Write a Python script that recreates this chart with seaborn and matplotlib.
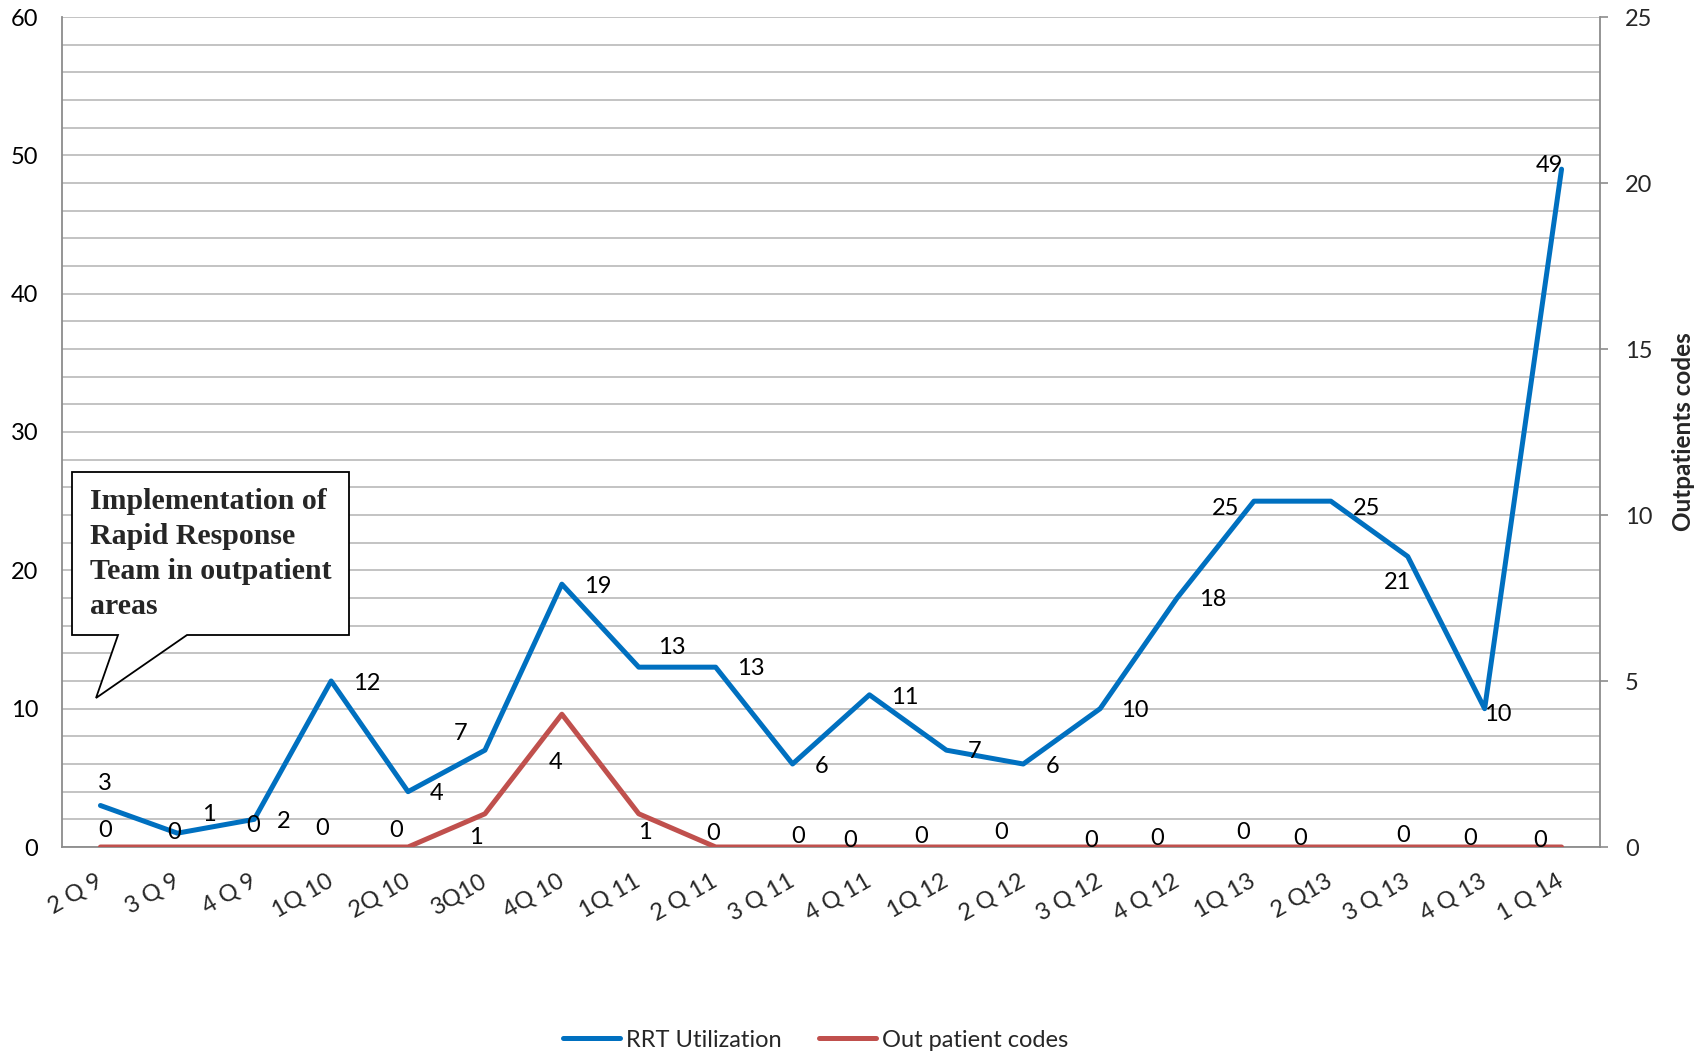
import numpy as np
import pandas as pd
import matplotlib
matplotlib.use("Agg")
import matplotlib.pyplot as plt
from matplotlib.patches import Polygon
import seaborn as sns

# ---------------- data ----------------
quarters = ["2 Q 9", "3 Q 9", "4 Q 9", "1Q 10", "2Q 10", "3Q10", "4Q 10", "1Q 11",
            "2 Q 11", "3 Q 11", "4 Q 11", "1Q 12", "2 Q 12", "3 Q 12", "4 Q 12",
            "1Q 13", "2 Q13", "3 Q 13", "4 Q 13", "1 Q 14"]
rrt_utilization = [3, 1, 2, 12, 4, 7, 19, 13, 13, 6, 11, 7, 6, 10, 18, 25, 25, 21, 10, 49]
outpatient_codes = [0, 0, 0, 0, 0, 1, 4, 1, 0, 0, 0, 0, 0, 0, 0, 0, 0, 0, 0, 0]
left_ticks = [0, 10, 20, 30, 40, 50, 60]
right_ticks = [0, 5, 10, 15, 20, 25]
callout_text = "Implementation of\nRapid Response\nTeam in outpatient\nareas"

# label offsets (layout only, in px of the reduced reference; y downward)
blue_off = [(4, -20), (29, -17), (27, 2), (33, 2), (26, 2), (-22, -15), (33, 2), (30, -18),
            (32, 1), (27, 2), (32, 2), (26, 1), (27, 2), (32, 2), (33, 1), (-26, 7),
            (33, 7), (-9, 24), (12, 5), (-11, -3)]
red_off = [(4, -15), (-3, -13), (-1, -20), (-8, -17), (-11, -15), (-8, 22), (-6, 44), (6, 17),
           (-2, -12), (5, -10), (-18, -6), (-23, -10), (-20, -13), (-8, -6), (-18, -8),
           (-10, -13), (-28, -8), (-4, -11), (-13, -8), (-20, -6)]
K = 1.088 * 0.72

sns.set_theme(style="white")
plt.rcParams["font.family"] = ["Lato", "DejaVu Sans"]

BLUE = "#0070C0"
RED = "#C0504D"
GRID = "#BEBEBE"
SPINE = "#8C8C8C"
FS = 17

df = pd.DataFrame({"pos": np.arange(len(quarters)), "quarter": quarters,
                   "RRT Utilization": rrt_utilization, "Out patient codes": outpatient_codes})

W, H = 1706, 1053
fig = plt.figure(figsize=(W / 100, H / 100), dpi=100)
ax = fig.add_axes([62 / W, 1 - 847 / H, (1600 - 62) / W, (847 - 17) / H])
ax2 = ax.twinx()

sns.lineplot(data=df, x="pos", y="RRT Utilization", ax=ax, color=BLUE, lw=3.6,
             sort=False, label="RRT Utilization", legend=False)
sns.lineplot(data=df, x="pos", y="Out patient codes", ax=ax2, color=RED, lw=3.6,
             sort=False, label="Out patient codes", legend=False)

ax.set_xlim(-0.5, len(quarters) - 0.5)
ax.set_ylim(0, 60)
ax2.set_ylim(0, 25)

ax.set_yticks(left_ticks)
ax.set_yticks(np.arange(0, 61, 2), minor=True)
ax.grid(True, which="both", axis="y", color=GRID, lw=1.3)
ax.grid(False, axis="x")
ax.set_axisbelow(True)
ax.tick_params(axis="y", which="both", length=0, pad=17, labelsize=FS, labelcolor="black")
ax.set_yticklabels([str(t) for t in left_ticks])

ax.set_xticks(df["pos"])
ax.set_xticklabels(quarters, rotation=30, ha="right", va="center", rotation_mode="anchor",
                   fontsize=FS)
ax.tick_params(axis="x", length=0, pad=23)
ax.set_xlabel("")
ax.set_ylabel("")

ax2.set_yticks(right_ticks)
ax2.set_yticklabels([str(t) for t in right_ticks])
ax2.tick_params(axis="y", length=6, width=1.2, color=SPINE, pad=12, labelsize=FS)
ax2.set_ylabel("Outpatients codes", fontsize=17.5, fontweight="bold", labelpad=8)
ax2.yaxis.set_label_coords(1.047, 0.5)
ax2.grid(False)

for a in (ax, ax2):
    a.spines["top"].set_visible(False)
    for s in ("left", "right", "bottom"):
        a.spines[s].set_color(SPINE)
        a.spines[s].set_linewidth(1.3)
ax2.spines["bottom"].set_visible(False)
ax2.spines["left"].set_visible(False)
ax.spines["right"].set_visible(False)

# data labels
for i, v in enumerate(rrt_utilization):
    dx, dy = blue_off[i]
    ax.annotate(str(v), (i, v), xytext=(dx * K, -dy * K), textcoords="offset points",
                ha="center", va="center", fontsize=FS, color="black")
for i, v in enumerate(outpatient_codes):
    dx, dy = red_off[i]
    ax2.annotate(str(v), (i, v), xytext=(dx * K, -dy * K), textcoords="offset points",
                 ha="center", va="center", fontsize=FS, color="black")

# callout box
pts_px = [(72, 472), (349, 472), (349, 635), (187, 635), (96, 698), (118, 635), (72, 635)]
pts = [(x / W, 1 - y / H) for x, y in pts_px]
poly = Polygon(pts, closed=True, transform=fig.transFigure, facecolor="white",
               edgecolor="black", lw=1.3, zorder=5)
fig.patches.append(poly)
fig.text(90 / W, 1 - 488 / H, callout_text, transform=fig.transFigure, ha="left", va="top",
         fontsize=21.5, fontweight="bold", family=["Liberation Serif"], linespacing=1.38,
         zorder=6)

# legend
h1, l1 = ax.get_legend_handles_labels()
h2, l2 = ax2.get_legend_handles_labels()
fig.legend(h1 + h2, l1 + l2, loc="center", bbox_to_anchor=(0.478, 0.0123), ncol=2,
           frameon=False, fontsize=FS, handlelength=2.4, handletextpad=0.25,
           columnspacing=1.6)

fig.savefig("out.png", dpi=100)
